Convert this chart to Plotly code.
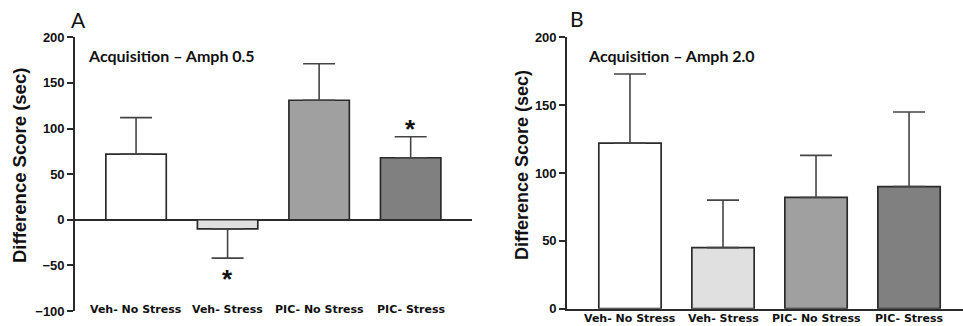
import plotly.graph_objects as go

W, H = 963, 326

categories = ["Veh- No Stress", "Veh- Stress", "PIC- No Stress", "PIC- Stress"]
colors = ["#ffffff", "#e0e0e0", "#a0a0a0", "#808080"]

# Panel A: Acquisition - Amph 0.5
values_a = [72, -10, 131, 68]
err_up_a = [40, 0, 40, 23]
err_down_a = [0, 32, 0, 0]
sig_a = [False, True, False, True]

# Panel B: Acquisition - Amph 2.0
values_b = [122, 45, 82, 90]
err_up_b = [51, 35, 31, 55]
err_down_b = [0, 0, 0, 0]

yticks_a = [-100, -50, 0, 50, 100, 150, 200]
yticks_b = [0, 50, 100, 150, 200]

EDGE = "#2b2b2b"
ERR = "#444444"
TXT = "#111111"
AX_FONT = "Arial"
CAT_FONT = "DejaVu Sans"
TITLE_FONT = "Lato"


def px_x(px):
    return px / W


def px_y(py):
    return 1 - py / H


x = list(range(len(categories)))

fig = go.Figure()

fig.add_trace(go.Bar(
    x=x, y=values_a, width=0.66, marker=dict(color=colors, line=dict(color=EDGE, width=1.7)),
    error_y=dict(type="data", symmetric=False, array=err_up_a, arrayminus=err_down_a,
                 color=ERR, thickness=1.6, width=16),
    xaxis="x", yaxis="y", showlegend=False))

fig.add_trace(go.Bar(
    x=x, y=values_b, width=0.67, marker=dict(color=colors, line=dict(color=EDGE, width=1.7)),
    error_y=dict(type="data", symmetric=False, array=err_up_b, arrayminus=err_down_b,
                 color=ERR, thickness=1.6, width=16),
    xaxis="x2", yaxis="y2", showlegend=False))

tickfont = dict(family=AX_FONT, size=13, color=TXT, weight="bold")

fig.update_layout(
    template="none",
    width=W, height=H, margin=dict(l=0, r=0, t=0, b=0, pad=0, autoexpand=False),
    paper_bgcolor="white", plot_bgcolor="white",
    xaxis=dict(domain=[px_x(75), px_x(472)], range=[-0.667, 3.67], showticklabels=False,
               showline=False, showgrid=False, zeroline=False, ticks="", automargin=False),
    yaxis=dict(domain=[px_y(311), px_y(37.3)], range=[-100, 200], tickvals=yticks_a,
               showline=True, linecolor=EDGE, linewidth=1.6, ticks="outside", ticklen=6,
               tickcolor=EDGE, tickwidth=1.6, tickfont=tickfont, showgrid=False,
               zeroline=True, zerolinecolor=EDGE, zerolinewidth=1.6, anchor="x",
               automargin=False),
    xaxis2=dict(domain=[px_x(567), 1.0], range=[-0.677, 3.58], showticklabels=False,
                showline=True, linecolor=EDGE, linewidth=1.6, showgrid=False, zeroline=False,
                ticks="", anchor="y2", automargin=False),
    yaxis2=dict(domain=[px_y(308.7), px_y(37.3)], range=[0, 200], tickvals=yticks_b,
                showline=True, linecolor=EDGE, linewidth=1.6, ticks="outside", ticklen=6,
                tickcolor=EDGE, tickwidth=1.6, tickfont=tickfont, showgrid=False,
                zeroline=False, anchor="x2", automargin=False),
)

ann = []
catfont = dict(family=CAT_FONT, size=11, color=TXT, weight="bold")
for i, c in enumerate(categories):
    ann.append(dict(x=i, y=px_y(309), xref="x", yref="paper", text=c, showarrow=False,
                    font=catfont, xanchor="center", yanchor="middle"))
    ann.append(dict(x=i, y=px_y(318), xref="x2", yref="paper", text=c, showarrow=False,
                    font=catfont, xanchor="center", yanchor="middle"))

for i, s in enumerate(sig_a):
    if s:
        if values_a[i] >= 0:
            yv = values_a[i] + err_up_a[i]
            shift = 8
        else:
            yv = values_a[i] - err_down_a[i]
            shift = -21
        ann.append(dict(x=i, y=yv, xref="x", yref="y", text="*", showarrow=False,
                        font=dict(family=AX_FONT, size=26, color=TXT, weight="bold"),
                        xanchor="center", yanchor="middle", yshift=shift))

ann.append(dict(x=px_x(20), y=px_y(166), xref="paper", yref="paper",
                text="Difference Score (sec)", textangle=-90, showarrow=False,
                font=dict(family=AX_FONT, size=18.5, color=TXT, weight="bold"),
                xanchor="center", yanchor="middle"))
ann.append(dict(x=px_x(522), y=px_y(165), xref="paper", yref="paper",
                text="Difference Score (sec)", textangle=-90, showarrow=False,
                font=dict(family=AX_FONT, size=18, color=TXT, weight="bold"),
                xanchor="center", yanchor="middle"))

sub_font = dict(family=TITLE_FONT, size=16, color=TXT, weight="bold")
ann.append(dict(x=px_x(86), y=px_y(55), xref="paper", yref="paper",
                text="Acquisition – Amph 0.5", showarrow=False, font=sub_font,
                xanchor="left", yanchor="middle"))
ann.append(dict(x=px_x(586), y=px_y(55), xref="paper", yref="paper",
                text="Acquisition – Amph 2.0", showarrow=False, font=sub_font,
                xanchor="left", yanchor="middle"))

letter_font = dict(family=TITLE_FONT, size=21, color=TXT)
ann.append(dict(x=px_x(69), y=px_y(19), xref="paper", yref="paper", text="A",
                showarrow=False, font=letter_font, xanchor="left", yanchor="middle"))
ann.append(dict(x=px_x(568), y=px_y(18), xref="paper", yref="paper", text="B",
                showarrow=False, font=letter_font, xanchor="left", yanchor="middle"))

fig.update_layout(annotations=ann)

fig.write_html("out.html")
